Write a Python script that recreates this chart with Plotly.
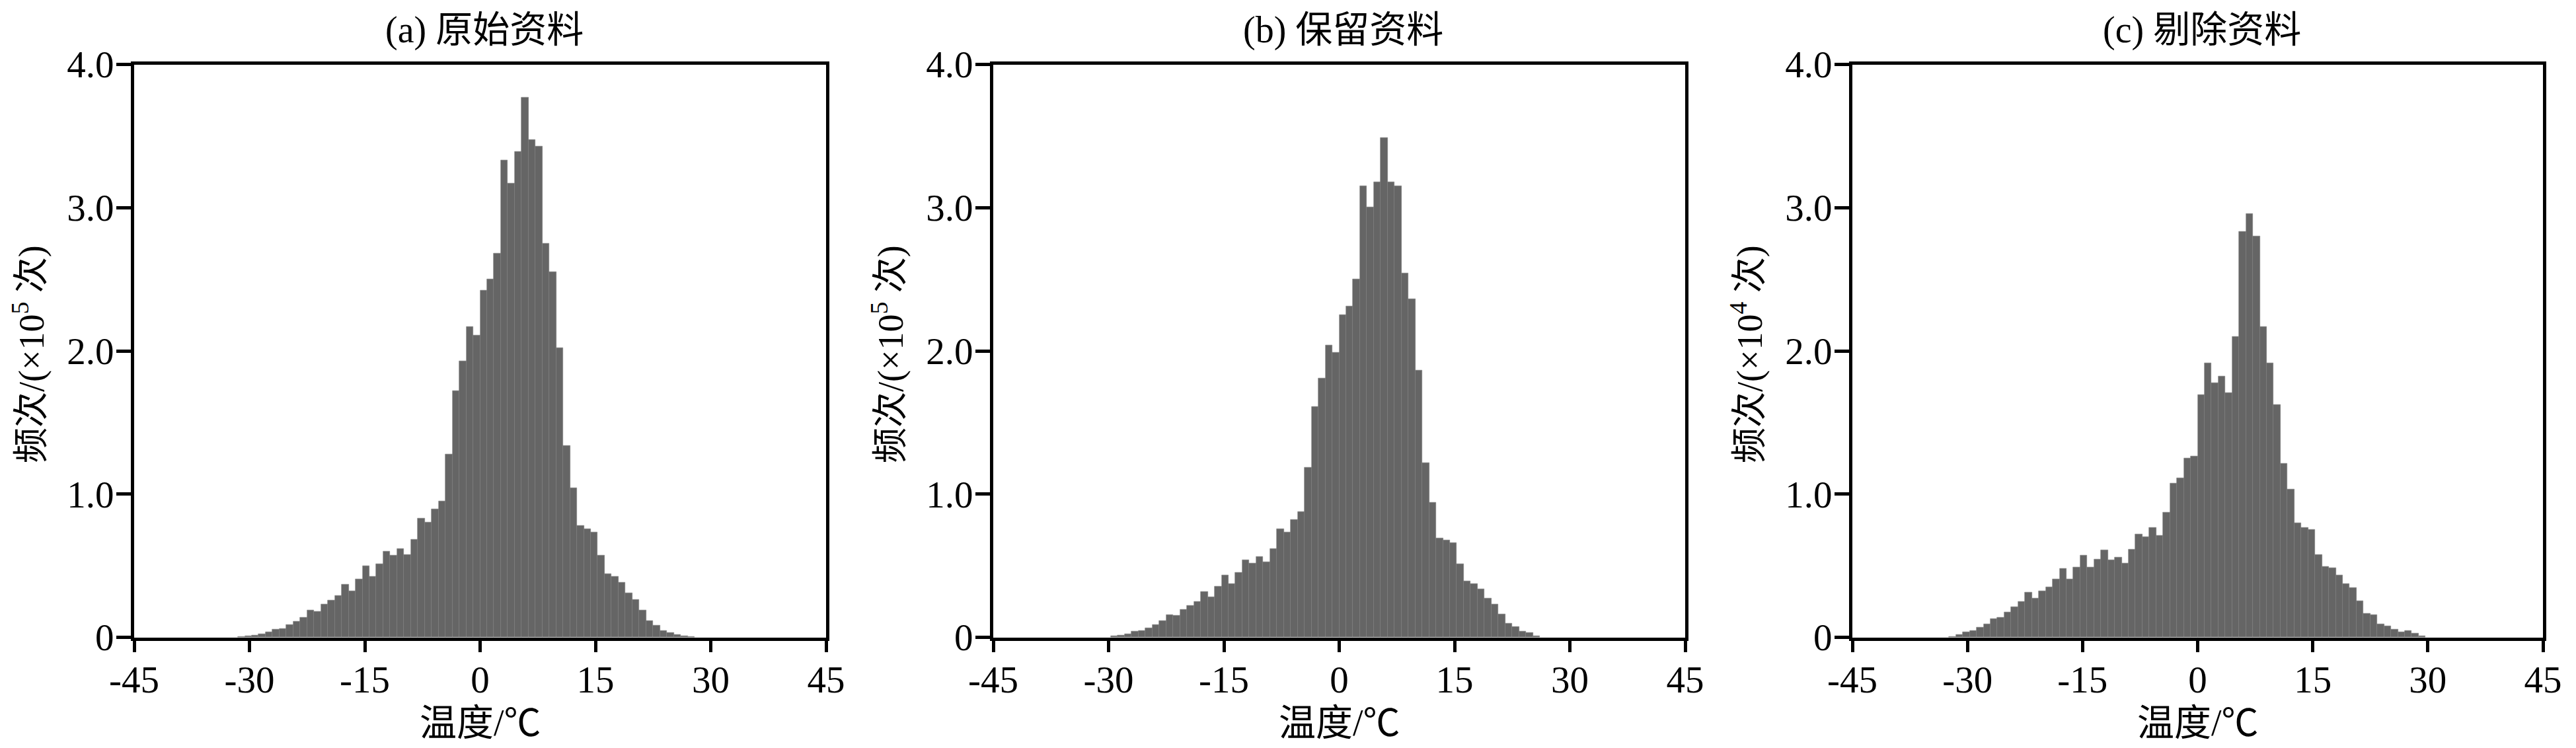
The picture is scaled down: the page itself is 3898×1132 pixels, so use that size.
import plotly.graph_objects as go

# ---------------- data (bin counts) ----------------
BIN_WIDTH = 0.9          # degC, 100 bins over [-45, 45]
X_MIN, X_MAX = -45.0, 45.0

panel_titles = ["(a) 原始资料", "(b) 保留资料", "(c) 剔除资料"]
x_title = "温度/℃"
y_titles = ["频次/(×10<sup>5</sup> 次)", "频次/(×10<sup>5</sup> 次)", "频次/(×10<sup>4</sup> 次)"]

x_tickvals = [-45, -30, -15, 0, 15, 30, 45]
x_ticktext = ["-45", "-30", "-15", "0", "15", "30", "45"]
y_tickvals = [0, 1, 2, 3, 4]
y_ticktext = ["0", "1.0", "2.0", "3.0", "4.0"]

# (a) original data, x1e5 ; first bin starts at -31.5 degC
first_bin_a = -31.5
counts_a = [0.004, 0.008, 0.015, 0.024, 0.036, 0.055, 0.058, 0.086, 0.109, 0.140,
            0.188, 0.178, 0.230, 0.258, 0.291, 0.367, 0.322, 0.405, 0.496, 0.425,
            0.510, 0.600, 0.572, 0.617, 0.579, 0.681, 0.829, 0.803, 0.897, 0.950,
            1.277, 1.720, 1.930, 2.170, 2.110, 2.420, 2.500, 2.680, 3.330, 3.170,
            3.390, 3.770, 3.475, 3.430, 2.750, 2.550, 2.020, 1.340, 1.045, 0.778,
            0.758, 0.732, 0.573, 0.444, 0.424, 0.385, 0.311, 0.265, 0.188, 0.116,
            0.085, 0.046, 0.033, 0.020, 0.008, 0.003]

# (b) retained data, x1e5 ; first bin starts at -29.7 degC
first_bin_b = -29.7
counts_b = [0.008, 0.015, 0.024, 0.041, 0.045, 0.065, 0.088, 0.114, 0.157, 0.150,
            0.194, 0.220, 0.249, 0.317, 0.282, 0.355, 0.435, 0.376, 0.452, 0.541,
            0.517, 0.562, 0.525, 0.619, 0.756, 0.733, 0.819, 0.878, 1.188, 1.610,
            1.810, 2.040, 1.990, 2.250, 2.310, 2.500, 3.150, 3.005, 3.180, 3.490,
            3.180, 3.150, 2.540, 2.360, 1.865, 1.220, 0.940, 0.694, 0.680, 0.658,
            0.514, 0.393, 0.375, 0.339, 0.272, 0.231, 0.162, 0.098, 0.072, 0.041,
            0.031, 0.010]

# (c) rejected data, x1e4 ; first bin starts at -32.4 degC
first_bin_c = -32.4
counts_c = [0.006, 0.018, 0.036, 0.048, 0.070, 0.093, 0.131, 0.138, 0.175, 0.211,
            0.248, 0.315, 0.274, 0.324, 0.352, 0.405, 0.482, 0.404, 0.489, 0.570,
            0.489, 0.546, 0.609, 0.541, 0.560, 0.518, 0.614, 0.721, 0.699, 0.765,
            0.709, 0.871, 1.075, 1.110, 1.249, 1.263, 1.695, 1.914, 1.775, 1.824,
            1.708, 2.100, 2.833, 2.957, 2.800, 2.170, 1.914, 1.626, 1.215, 1.035,
            0.796, 0.765, 0.753, 0.578, 0.493, 0.483, 0.432, 0.372, 0.347, 0.252,
            0.167, 0.157, 0.090, 0.080, 0.054, 0.039, 0.044, 0.026, 0.010]

series = [(first_bin_a, counts_a), (first_bin_b, counts_b), (first_bin_c, counts_c)]

# ---------------- layout geometry (page pixels) ----------------
W, H = 3898, 1132
OFF = 8  # default page body margin in the browser
panel_px = [(203, 1250), (1503, 2550), (2803, 3848)]
top_px, bottom_px = 97.5, 964.5

def px_x(p):
    return (p - OFF) / W

def px_y(p):
    return 1 - (p - OFF) / H

x_domains = [[px_x(a), px_x(b)] for a, b in panel_px]
y_domain = [px_y(bottom_px), px_y(top_px)]

FONT = "Liberation Serif, 'Times New Roman', 'Noto Sans CJK SC', serif"
BAR_COLOR = "#656565"
FS_TICK = 57
FS_TEXT = 54

fig = go.Figure()
for i, (start, counts) in enumerate(series):
    centers = [start + BIN_WIDTH * (j + 0.5) for j in range(len(counts))]
    suffix = "" if i == 0 else str(i + 1)
    fig.add_trace(go.Bar(
        x=centers, y=counts, width=BIN_WIDTH,
        marker=dict(color=BAR_COLOR, line=dict(color="#7a7a7a", width=0.6)),
        xaxis="x" + suffix, yaxis="y" + suffix, showlegend=False,
    ))

axis_common = dict(
    showline=True, linecolor="black", linewidth=5, mirror=True,
    ticks="outside", tickwidth=5, tickcolor="black",
    showgrid=False, zeroline=False, automargin=False,
    tickfont=dict(family=FONT, size=FS_TICK, color="black"),
)

layout = dict(
    template="none",
    width=W, height=H,
    margin=dict(l=0, r=0, t=0, b=0, pad=0),
    paper_bgcolor="white", plot_bgcolor="white",
    bargap=0, font=dict(family=FONT, color="black", size=FS_TEXT),
    annotations=[],
)

for i in range(3):
    suffix = "" if i == 0 else str(i + 1)
    layout["xaxis" + suffix] = dict(
        axis_common, domain=x_domains[i], range=[X_MIN, X_MAX],
        tickvals=x_tickvals, ticktext=x_ticktext, ticklen=17,
        ticklabelstandoff=-7,
        anchor="y" + suffix,
    )
    layout["yaxis" + suffix] = dict(
        axis_common, domain=y_domain, range=[0, 4],
        tickvals=y_tickvals, ticktext=y_ticktext, ticklen=22,
        ticklabelstandoff=-8,
        anchor="x" + suffix,
    )
    xc_px = (panel_px[i][0] + panel_px[i][1]) / 2
    layout["annotations"].append(dict(
        text=panel_titles[i], x=px_x(xc_px + 6), y=px_y(45), xref="paper", yref="paper",
        xanchor="center", yanchor="middle", showarrow=False,
        font=dict(family=FONT, size=FS_TEXT + 2, color="black"),
    ))
    layout["annotations"].append(dict(
        text=x_title, x=px_x(xc_px), y=px_y(1094), xref="paper", yref="paper",
        xanchor="center", yanchor="middle", showarrow=False,
        font=dict(family=FONT, size=FS_TEXT + 2, color="black"),
    ))
    layout["annotations"].append(dict(
        text=y_titles[i], x=px_x(panel_px[i][0] - 160), y=px_y(536),
        xref="paper", yref="paper", textangle=-90,
        xanchor="center", yanchor="middle", showarrow=False,
        font=dict(family=FONT, size=FS_TEXT, color="black"),
    ))

fig.update_layout(**layout)
fig.write_html("out.html")
